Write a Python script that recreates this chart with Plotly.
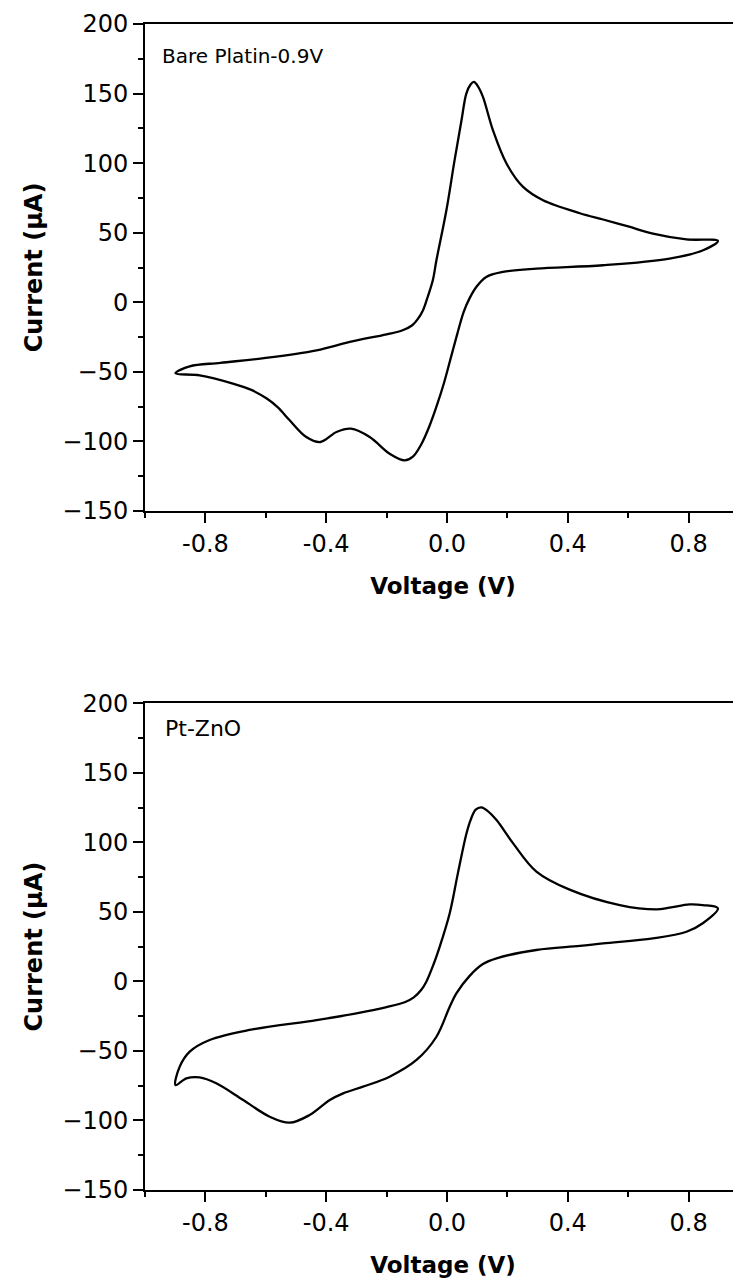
import plotly.graph_objects as go

# ---- Data ----
bare_v = [-0.899, -0.852, -0.75, -0.6, -0.432, -0.322, -0.2, -0.147, -0.115, -0.095, -0.079, -0.064,
          -0.047, -0.035, -0.002, 0.025, 0.048, 0.064, 0.078, 0.089, 0.103, 0.119, 0.152, 0.197,
          0.252, 0.318, 0.44, 0.517, 0.6, 0.682, 0.793, 0.897, 0.848, 0.737, 0.517, 0.296,
          0.185, 0.13, 0.097, 0.075, 0.055, 0.035, 0.015, -0.01, -0.035, -0.06, -0.085, -0.113,
          -0.14, -0.19, -0.256, -0.318, -0.366, -0.419, -0.466, -0.521, -0.56, -0.598, -0.65,
          -0.709, -0.819, -0.899]
bare_i = [-51, -46, -43.5, -40, -34.5, -28.5, -23, -20.1, -16.5, -11.5, -5.5, 3.8,
          15.8, 30.2, 66.1, 102, 130.8, 150, 156.5, 158.4, 155, 147.6, 123.7, 99.7,
          82.9, 73.3, 64, 59.5, 54.5, 49.4, 45.2, 44.1, 37.4, 31.4, 26.6, 24.2,
          21.8, 18.2, 11, 3, -7, -22, -38, -58, -75, -90, -102, -111,
          -113.6, -108.8, -96.8, -90.8, -93.2, -100.4, -96.8, -84.8, -75.5, -69, -62.8,
          -58.4, -52.5, -51]

zno_v = [-0.899, -0.885, -0.852, -0.786, -0.654, -0.432, -0.3, -0.2, -0.14, -0.11, -0.085,
         -0.068, -0.045, -0.024, 0.009, 0.036, 0.064, 0.078, 0.095, 0.114, 0.135, 0.164,
         0.219, 0.296, 0.406, 0.572, 0.693, 0.737, 0.803, 0.847, 0.897, 0.847, 0.793, 0.682,
         0.517, 0.44, 0.296, 0.164, 0.119, 0.075, 0.031, 0.009, -0.035, -0.101, -0.19,
         -0.278, -0.344, -0.388, -0.455, -0.521, -0.587, -0.675, -0.764, -0.819, -0.863, -0.899]
zno_i = [-74.5, -61.3, -50.5, -42.1, -34.9, -27.8, -23, -18.5, -15, -11.5, -6,
         0, 12, 25, 49, 77.7, 106, 116, 123.5, 125.2, 122.5, 116,
         99.3, 79, 66, 54.9, 51.8, 53, 55.4, 54.9, 52.6, 41.8, 35.7, 31,
         27.4, 25.5, 22.6, 16.6, 12.5, 4, -8.6, -18.2, -39.8, -56.5, -68.5,
         -75.7, -80.5, -85.3, -96.1, -101.6, -97.3, -85.3, -73.3, -69, -69.7, -74.5]

x_ticks = [-0.8, -0.4, 0.0, 0.4, 0.8]
x_ticktext = ["-0.8", "-0.4", "0.0", "0.4", "0.8"]
y_ticks = [-150, -100, -50, 0, 50, 100, 150, 200]
labels = ["Bare Platin-0.9V", "Pt-ZnO"]
x_title = "Voltage (V)"
y_title = "Current (μA)"

FONT = "DejaVu Sans"

# page body has an 8px margin: figure occupies page pixels 8..741 x 8..1280
W, H = 733, 1272
ML, MT, MB = 137, 16, 90
PW, PH = W - ML, H - MT - MB  # 596 x 1166


def px_x(page_x):
    return (page_x - 8 - ML) / PW


def px_y(page_y):
    return (H - MB - (page_y - 8)) / PH


fig = go.Figure()
fig.add_trace(go.Scatter(x=bare_v, y=bare_i, mode="lines", xaxis="x", yaxis="y",
                         line=dict(color="black", width=2.3, shape="spline", smoothing=1.0),
                         showlegend=False))
fig.add_trace(go.Scatter(x=zno_v, y=zno_i, mode="lines", xaxis="x2", yaxis="y2",
                         line=dict(color="black", width=2.3, shape="spline", smoothing=1.0),
                         showlegend=False))

xcommon = dict(range=[-1.0, 0.9735], tickvals=x_ticks, ticktext=x_ticktext,
               ticks="outside", ticklen=10, tickwidth=2, tickcolor="black",
               showline=True, linewidth=2, linecolor="black", mirror=True,
               showgrid=False, zeroline=False,
               minor=dict(tickvals=[-1.0, -0.6, -0.2, 0.2, 0.6], ticks="outside",
                          ticklen=5, tickwidth=2, tickcolor="black", showgrid=False),
               tickfont=dict(family=FONT, size=24, color="black"),
               title=dict(text=x_title, font=dict(family=FONT, size=23, color="black", weight="bold"),
                          standoff=21))
ycommon = dict(range=[-150, 200], tickvals=y_ticks,
               ticks="outside", ticklen=10, tickwidth=2, tickcolor="black",
               showline=True, linewidth=2, linecolor="black", mirror=False,
               showgrid=False, zeroline=False,
               minor=dict(dtick=25, tick0=0, ticks="outside", ticklen=5, tickwidth=2,
                          tickcolor="black", showgrid=False),
               tickfont=dict(family=FONT, size=24, color="black"),
               title=dict(text=y_title, font=dict(family=FONT, size=24, color="black", weight="bold"),
                          standoff=13))

fig.update_layout(
    width=W, height=H,
    margin=dict(l=ML, r=0, t=MT, b=MB),
    paper_bgcolor="white", plot_bgcolor="white",
    xaxis=dict(anchor="y", domain=[0, 1], **xcommon),
    yaxis=dict(anchor="x", domain=[px_y(511), 1.0], **ycommon),
    xaxis2=dict(anchor="y2", domain=[0, 1], **xcommon),
    yaxis2=dict(anchor="x2", domain=[0.0, px_y(703.3)], **ycommon),
    annotations=[
        dict(text=labels[0], xref="paper", yref="paper", x=px_x(160), y=px_y(56.5),
             xanchor="left", yanchor="middle", showarrow=False,
             font=dict(family=FONT, size=20, color="black")),
        dict(text=labels[1], xref="paper", yref="paper", x=px_x(163), y=px_y(728.3),
             xanchor="left", yanchor="middle", showarrow=False,
             font=dict(family=FONT, size=22, color="black")),
    ],
)

fig.write_html("out.html")
